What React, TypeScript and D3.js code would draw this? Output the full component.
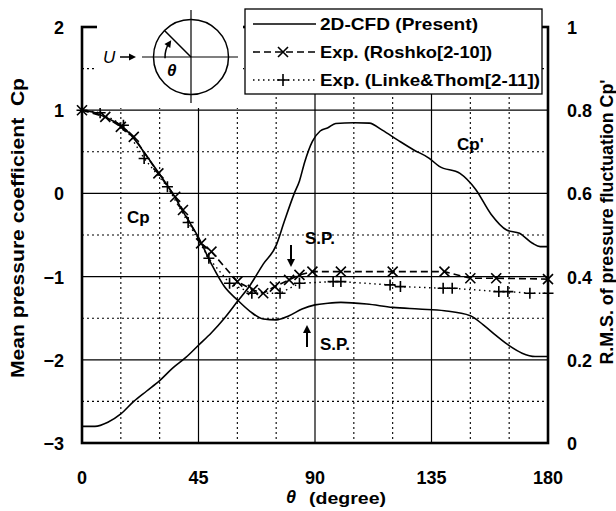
import * as d3 from "d3";
import React, { RefObject, useEffect, useRef } from "react";

// mean pressure coefficient (2D-CFD)
const cpTheta = [0, 5, 10, 15, 20, 25, 30, 35, 40, 45, 50, 55, 60, 65, 70, 75, 80, 85, 90, 95, 100, 110, 120, 130, 140, 150, 155, 160, 165, 170, 175, 180];
const cpCfd = [1.0, 0.97, 0.9, 0.82, 0.66, 0.45, 0.23, 0.0, -0.27, -0.53, -0.85, -1.12, -1.28, -1.42, -1.51, -1.52, -1.47, -1.39, -1.34, -1.32, -1.31, -1.33, -1.37, -1.39, -1.41, -1.47, -1.58, -1.71, -1.83, -1.92, -1.96, -1.96];

// rms fluctuation Cp' (2D-CFD)
const rmsTheta = [0, 5, 10, 15, 20, 25, 30, 35, 40, 45, 50, 55, 60, 65, 70, 75, 78, 82, 84, 86, 89, 92, 95, 98, 105, 111, 116, 122, 128, 134, 138, 146, 152, 158, 164, 169, 174, 177, 180];
const rmsCfd = [0.04, 0.04, 0.05, 0.07, 0.1, 0.125, 0.15, 0.18, 0.205, 0.235, 0.265, 0.3, 0.34, 0.38, 0.43, 0.475, 0.53, 0.6, 0.63, 0.675, 0.725, 0.75, 0.758, 0.768, 0.77, 0.769, 0.752, 0.728, 0.705, 0.685, 0.665, 0.648, 0.61, 0.55, 0.512, 0.504, 0.48, 0.472, 0.472];

// Exp. Roshko
const roshkoTheta = [0, 9, 15, 20, 29.5, 36, 39, 46, 50, 60, 66, 70, 74.5, 80, 84, 89, 100, 120, 140, 150, 160, 180];
const roshkoCp = [1.0, 0.92, 0.8, 0.68, 0.24, -0.04, -0.2, -0.6, -0.7, -1.06, -1.16, -1.2, -1.12, -1.04, -0.98, -0.94, -0.94, -0.94, -0.94, -1.02, -1.02, -1.03];

// Exp. Linke & Thom
const linkeTheta = [0, 7, 16, 24, 33, 41, 49, 57, 65.6, 76.5, 84, 97, 100, 119, 123, 139.5, 143, 161, 164.5, 173, 180];
const linkeCp = [1.0, 0.97, 0.82, 0.42, 0.08, -0.35, -0.78, -1.08, -1.2, -1.2, -1.08, -1.06, -1.06, -1.1, -1.12, -1.14, -1.14, -1.18, -1.18, -1.2, -1.2];

const xTicks = [0, 45, 90, 135, 180];
const xMinor = [15, 30, 60, 75, 105, 120, 150, 165];
const yTicks = [2, 1, 0, -1, -2, -3];
const yMinor = [1.5, 0.5, -0.5, -1.5, -2.5];
const y2Ticks = [1, 0.8, 0.6, 0.4, 0.2, 0];

const legendLabels = ["2D-CFD (Present)", "Exp. (Roshko[2-10])", "Exp. (Linke&Thom[2-11])"];

const W = 616;
const H = 511;
const FONT = "'Liberation Sans', Arial, sans-serif";

const App = () => {
  const d3Ref: RefObject<SVGSVGElement> = useRef(null);

  useEffect(() => {
    const svg = d3.select(d3Ref.current);
    svg.selectAll("*").remove();

    const x = d3.scaleLinear().domain([0, 180]).range([82, 548]);
    const y = d3.scaleLinear().domain([-3, 2]).range([443, 27]);
    const y2 = d3.scaleLinear().domain([0, 1]).range([443, 27]);

    const g = svg.append("g");

    // grid
    g.selectAll("line.xmin").data(xMinor).enter().append("line")
      .attr("x1", (d) => x(d)).attr("x2", (d) => x(d))
      .attr("y1", y(2)).attr("y2", y(-3))
      .attr("stroke", "#000").attr("stroke-width", 1.1).attr("stroke-dasharray", "2,3");
    g.selectAll("line.ymin").data(yMinor).enter().append("line")
      .attr("y1", (d) => y(d)).attr("y2", (d) => y(d))
      .attr("x1", x(0)).attr("x2", x(180))
      .attr("stroke", "#000").attr("stroke-width", 1.1).attr("stroke-dasharray", "2,3");
    g.selectAll("line.xmaj").data([45, 90, 135]).enter().append("line")
      .attr("x1", (d) => x(d)).attr("x2", (d) => x(d))
      .attr("y1", y(2)).attr("y2", y(-3))
      .attr("stroke", "#000").attr("stroke-width", 1.2);
    g.selectAll("line.ymaj").data([1, 0, -1, -2]).enter().append("line")
      .attr("y1", (d) => y(d)).attr("y2", (d) => y(d))
      .attr("x1", x(0)).attr("x2", x(180))
      .attr("stroke", "#000").attr("stroke-width", 1.2);

    // lines
    const cpLine = d3.line<number>()
      .x((d, i) => x(cpTheta[i]))
      .y((d) => y(d))
      .curve(d3.curveMonotoneX);
    g.append("path").attr("d", cpLine(cpCfd) as string)
      .attr("fill", "none").attr("stroke", "#000").attr("stroke-width", 1.6);

    const rmsLine = d3.line<number>()
      .x((d, i) => x(rmsTheta[i]))
      .y((d) => y2(d))
      .curve(d3.curveMonotoneX);
    g.append("path").attr("d", rmsLine(rmsCfd) as string)
      .attr("fill", "none").attr("stroke", "#000").attr("stroke-width", 1.6);

    const roshkoLine = d3.line<number>()
      .x((d, i) => x(roshkoTheta[i]))
      .y((d) => y(d));
    g.append("path").attr("d", roshkoLine(roshkoCp) as string)
      .attr("fill", "none").attr("stroke", "#000").attr("stroke-width", 1.6)
      .attr("stroke-dasharray", "7,4");

    const linkeLine = d3.line<number>()
      .x((d, i) => x(linkeTheta[i]))
      .y((d) => y(d));
    g.append("path").attr("d", linkeLine(linkeCp) as string)
      .attr("fill", "none").attr("stroke", "#000").attr("stroke-width", 1.4)
      .attr("stroke-dasharray", "1.5,3.5");

    const drawX = (px: number, py: number) => {
      const s = 5;
      g.append("path")
        .attr("d", `M${px - s},${py - s}L${px + s},${py + s}M${px - s},${py + s}L${px + s},${py - s}`)
        .attr("stroke", "#000").attr("stroke-width", 1.6).attr("fill", "none");
    };
    const drawPlus = (px: number, py: number) => {
      const s = 5.5;
      g.append("path")
        .attr("d", `M${px - s},${py}L${px + s},${py}M${px},${py - s}L${px},${py + s}`)
        .attr("stroke", "#000").attr("stroke-width", 1.6).attr("fill", "none");
    };
    roshkoCp.forEach((v, i) => drawX(x(roshkoTheta[i]), y(v)));
    linkeCp.forEach((v, i) => drawPlus(x(linkeTheta[i]), y(v)));

    // frame
    g.append("rect").attr("x", x(0)).attr("y", y(2))
      .attr("width", x(180) - x(0)).attr("height", y(-3) - y(2))
      .attr("fill", "none").attr("stroke", "#000").attr("stroke-width", 2.6);

    // tick labels
    const lab = svg.append("g").attr("font-family", FONT).attr("font-weight", "bold")
      .attr("font-size", 18).attr("fill", "#000");
    lab.selectAll("text.yl").data(yTicks).enter().append("text")
      .attr("x", 64).attr("y", (d) => y(d) + 7).attr("text-anchor", "end")
      .text((d) => (d < 0 ? "\u2212" + Math.abs(d) : String(d)));
    lab.selectAll("text.yr").data(y2Ticks).enter().append("text")
      .attr("x", 567).attr("y", (d) => y2(d) + 7).attr("text-anchor", "start")
      .text((d) => String(d));
    lab.selectAll("text.xl").data(xTicks).enter().append("text")
      .attr("x", (d) => x(d)).attr("y", 484).attr("text-anchor", "middle")
      .text((d) => String(d));

    // axis titles
    svg.append("text").attr("font-family", FONT).attr("font-weight", "bold")
      .attr("font-size", 19).attr("text-anchor", "middle")
      .attr("textLength", 300).attr("lengthAdjust", "spacingAndGlyphs")
      .attr("transform", "translate(24,228) rotate(-90)")
      .text("Mean pressure coefficient\u00a0\u00a0Cp");
    svg.append("text").attr("font-family", FONT).attr("font-weight", "bold")
      .attr("font-size", 18).attr("text-anchor", "middle")
      .attr("textLength", 285).attr("lengthAdjust", "spacingAndGlyphs")
      .attr("transform", "translate(613,222) rotate(-90)")
      .text("R.M.S. of pressure fluctuation Cp'");
    svg.append("text").attr("font-family", FONT).attr("font-weight", "bold")
      .attr("font-style", "italic").attr("font-size", 18)
      .attr("x", 286).attr("y", 503).text("\u03b8");
    svg.append("text").attr("font-family", FONT).attr("font-weight", "bold")
      .attr("font-size", 16).attr("x", 309).attr("y", 504)
      .attr("textLength", 77).attr("lengthAdjust", "spacingAndGlyphs")
      .text("(degree)");

    // annotations
    const ann = svg.append("g").attr("font-family", FONT).attr("font-weight", "bold")
      .attr("font-size", 17);
    ann.append("text").attr("x", 127).attr("y", 223).text("Cp");
    ann.append("text").attr("x", 457).attr("y", 150).text("Cp'");
    ann.append("text").attr("x", 305).attr("y", 244).text("S.P.");
    ann.append("text").attr("x", 320).attr("y", 350).text("S.P.");
    const arrow = (px: number, y0: number, y1: number) => {
      const dir = y1 > y0 ? 1 : -1;
      svg.append("line").attr("x1", px).attr("x2", px).attr("y1", y0).attr("y2", y1 - dir * 6)
        .attr("stroke", "#000").attr("stroke-width", 2);
      svg.append("path")
        .attr("d", `M${px - 4},${y1 - dir * 8}L${px + 4},${y1 - dir * 8}L${px},${y1}Z`)
        .attr("fill", "#000");
    };
    arrow(291, 245, 267);
    arrow(307, 347, 325);

    // inset
    const ins = svg.append("g");
    ins.append("rect").attr("x", 97).attr("y", 0).attr("width", 146).attr("height", 108).attr("fill", "#fff");
    const cx = 191, cy = 57, r = 37.5;
    ins.append("circle").attr("cx", cx).attr("cy", cy).attr("r", r)
      .attr("fill", "none").attr("stroke", "#000").attr("stroke-width", 1.5);
    ins.append("line").attr("x1", 142).attr("x2", 238).attr("y1", cy).attr("y2", cy)
      .attr("stroke", "#000").attr("stroke-width", 1.2);
    ins.append("line").attr("x1", cx).attr("x2", cx).attr("y1", 10).attr("y2", 103)
      .attr("stroke", "#000").attr("stroke-width", 1.2);
    ins.append("line").attr("x1", cx).attr("y1", cy)
      .attr("x2", cx - r * Math.cos(Math.PI / 4)).attr("y2", cy - r * Math.sin(Math.PI / 4))
      .attr("stroke", "#000").attr("stroke-width", 1.5);
    // angle arc from the flow direction towards the radius line
    const ar = 26;
    const a0 = Math.PI - 0.05;
    const a1 = Math.PI + Math.PI / 4 - 0.2;
    const arcPath = d3.path();
    arcPath.arc(cx, cy, ar, a0, a1, false);
    ins.append("path").attr("d", arcPath.toString())
      .attr("fill", "none").attr("stroke", "#000").attr("stroke-width", 1.5);
    const ex = cx + ar * Math.cos(a1 + 0.12);
    const ey = cy + ar * Math.sin(a1 + 0.12);
    const tx = -Math.sin(a1), ty = Math.cos(a1);
    const nx = Math.cos(a1), ny = Math.sin(a1);
    ins.append("path")
      .attr("d", `M${ex},${ey}L${ex - tx * 7 + nx * 3.5},${ey - ty * 7 + ny * 3.5}L${ex - tx * 7 - nx * 3.5},${ey - ty * 7 - ny * 3.5}Z`)
      .attr("fill", "#000");
    ins.append("text").attr("x", 167).attr("y", 76).attr("font-family", FONT)
      .attr("font-style", "italic").attr("font-weight", "bold").attr("font-size", 17).text("\u03b8");
    ins.append("text").attr("x", 103).attr("y", 63).attr("font-family", FONT)
      .attr("font-style", "italic").attr("font-size", 17).text("U");
    ins.append("line").attr("x1", 120).attr("x2", 131).attr("y1", 57).attr("y2", 57)
      .attr("stroke", "#000").attr("stroke-width", 1.5);
    ins.append("path").attr("d", "M136,57L129,53.5L129,60.5Z").attr("fill", "#000");

    // legend
    const lg = svg.append("g");
    lg.append("rect").attr("x", 245).attr("y", 9).attr("width", 297).attr("height", 85)
      .attr("fill", "#fff").attr("stroke", "#000").attr("stroke-width", 1.3);
    const rows = [24, 52, 80];
    const legendLen = [158, 172, 220];
    lg.append("line").attr("x1", 253).attr("x2", 316).attr("y1", rows[0]).attr("y2", rows[0])
      .attr("stroke", "#000").attr("stroke-width", 1.6);
    lg.append("line").attr("x1", 253).attr("x2", 316).attr("y1", rows[1]).attr("y2", rows[1])
      .attr("stroke", "#000").attr("stroke-width", 1.6).attr("stroke-dasharray", "7,4");
    lg.append("line").attr("x1", 253).attr("x2", 316).attr("y1", rows[2]).attr("y2", rows[2])
      .attr("stroke", "#000").attr("stroke-width", 1.4).attr("stroke-dasharray", "1.5,3.5");
    const lx = 283;
    lg.append("path")
      .attr("d", `M${lx - 5},${rows[1] - 5}L${lx + 5},${rows[1] + 5}M${lx - 5},${rows[1] + 5}L${lx + 5},${rows[1] - 5}`)
      .attr("stroke", "#000").attr("stroke-width", 1.6);
    lg.append("path")
      .attr("d", `M${lx - 6},${rows[2]}L${lx + 6},${rows[2]}M${lx},${rows[2] - 6}L${lx},${rows[2] + 6}`)
      .attr("stroke", "#000").attr("stroke-width", 1.6);
    lg.selectAll("text").data(legendLabels).enter().append("text")
      .attr("x", 320).attr("y", (d, i) => rows[i] + 6)
      .attr("font-family", FONT).attr("font-weight", "bold").attr("font-size", 17)
      .attr("textLength", (d, i) => legendLen[i]).attr("lengthAdjust", "spacingAndGlyphs")
      .text((d) => d);
  }, [d3Ref]);

  return (
    <svg
      ref={d3Ref}
      width={W}
      height={H}
      style={{ position: "absolute", left: 0, top: 0, background: "#fff" }}
    />
  );
};

export default App;
